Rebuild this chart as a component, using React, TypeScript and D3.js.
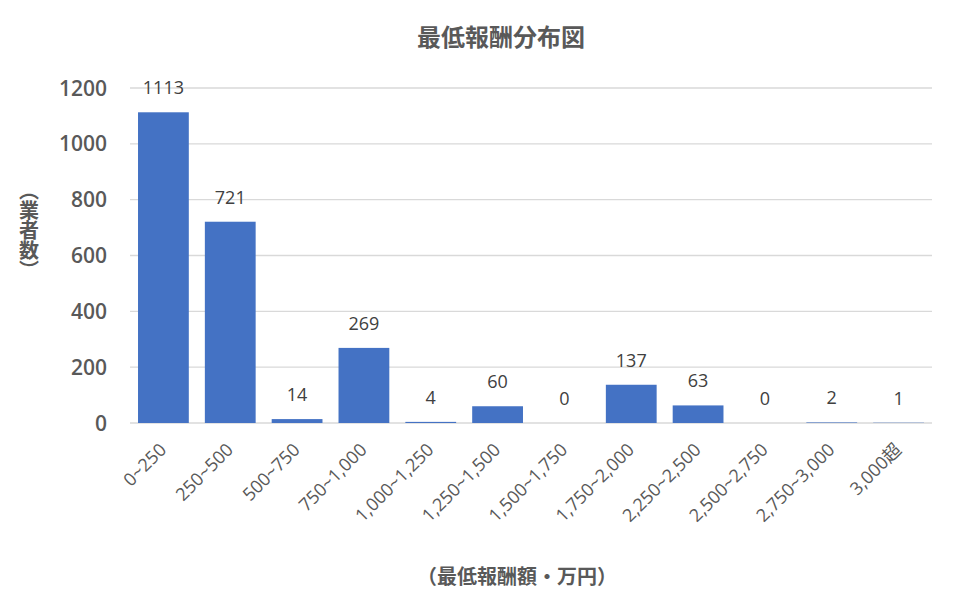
import { useEffect, useRef } from 'react';
import * as d3 from 'd3';

const categories = [
	'0~250',
	'250~500',
	'500~750',
	'750~1,000',
	'1,000~1,250',
	'1,250~1,500',
	'1,500~1,750',
	'1,750~2,000',
	'2,250~2,500',
	'2,500~2,750',
	'2,750~3,000',
	'3,000超',
];
const counts = [1113, 721, 14, 269, 4, 60, 0, 137, 63, 0, 2, 1];
const yTicks = [0, 200, 400, 600, 800, 1000, 1200];

const title = '最低報酬分布図';
const yTitle = '（業者数）';
const xTitle = '（最低報酬額・万円）';

const WIDTH = 955;
const HEIGHT = 603;
const CJK = '"Noto Sans CJK JP", "Noto Sans", sans-serif';
const LATIN = '"Open Sans", "Noto Sans CJK JP", sans-serif';

const App: React.FC = () => {
	const ref = useRef<SVGSVGElement>(null);

	useEffect(() => {
		if (!ref.current) return;
		const svg = d3.select(ref.current);
		svg.selectAll('*').remove();

		const left = 130;
		const right = 932;
		const top = 88;
		const bottom = 423;

		const x = d3
			.scaleBand<string>()
			.domain(categories)
			.range([left, right])
			.paddingInner(0.24)
			.paddingOuter(0.12);

		const y = d3.scaleLinear().domain([0, 1200]).range([bottom, top]);

		svg.append('rect')
			.attr('width', WIDTH)
			.attr('height', HEIGHT)
			.attr('fill', '#ffffff');

		// grid lines
		svg.append('g')
			.selectAll('line')
			.data(yTicks)
			.join('line')
			.attr('x1', left)
			.attr('x2', right)
			.attr('y1', (d) => y(d))
			.attr('y2', (d) => y(d))
			.attr('stroke', '#d9d9d9')
			.attr('stroke-width', 1.3);

		// y tick labels
		svg.append('g')
			.selectAll('text')
			.data(yTicks)
			.join('text')
			.attr('x', 107)
			.attr('y', (d) => y(d))
			.attr('dy', '0.36em')
			.attr('text-anchor', 'end')
			.style('font-family', LATIN)
			.style('font-size', '21px')
			.style('font-weight', 600)
			.style('fill', '#595959')
			.text((d) => d);

		// bars
		svg.append('g')
			.selectAll('rect')
			.data(counts)
			.join('rect')
			.attr('x', (_, i) => x(categories[i]) ?? 0)
			.attr('width', x.bandwidth())
			.attr('y', (d) => y(d))
			.attr('height', (d) => bottom - y(d))
			.attr('fill', '#4472c4');

		// value labels
		svg.append('g')
			.selectAll('text')
			.data(counts)
			.join('text')
			.attr('x', (_, i) => (x(categories[i]) ?? 0) + x.bandwidth() / 2)
			.attr('y', (d) => y(d) - 18)
			.attr('text-anchor', 'middle')
			.style('font-family', LATIN)
			.style('font-size', '18px')
			.style('fill', '#404040')
			.text((d) => d);

		// x tick labels
		svg.append('g')
			.selectAll('text')
			.data(categories)
			.join('text')
			.attr('transform', (d) => {
				const cx = (x(d) ?? 0) + x.bandwidth() / 2;
				return `translate(${cx + 4}, ${bottom + 28}) rotate(-45)`;
			})
			.attr('text-anchor', 'end')
			.style('font-family', LATIN)
			.style('font-size', '18px')
			.style('fill', '#595959')
			.text((d) => d);

		// chart title
		svg.append('text')
			.attr('x', 501)
			.attr('y', 46)
			.attr('text-anchor', 'middle')
			.style('font-family', CJK)
			.style('font-size', '24px')
			.style('font-weight', 'bold')
			.style('fill', '#595959')
			.text(title);

		// y axis title, vertical writing
		svg.append('text')
			.attr('x', 29)
			.attr('y', 230)
			.attr('text-anchor', 'middle')
			.style('writing-mode', 'vertical-rl')
			.style('font-family', CJK)
			.style('font-size', '20px')
			.style('font-weight', 'bold')
			.style('fill', '#595959')
			.text(yTitle);

		// x axis title
		svg.append('text')
			.attr('x', 517)
			.attr('y', 584)
			.attr('text-anchor', 'middle')
			.style('font-family', CJK)
			.style('font-size', '20px')
			.style('font-weight', 'bold')
			.style('fill', '#595959')
			.text(xTitle);
	}, []);

	return (
		<svg
			ref={ref}
			width={WIDTH}
			height={HEIGHT}
			style={{ position: 'absolute', left: 0, top: 0 }}
		></svg>
	);
};

export default App;
